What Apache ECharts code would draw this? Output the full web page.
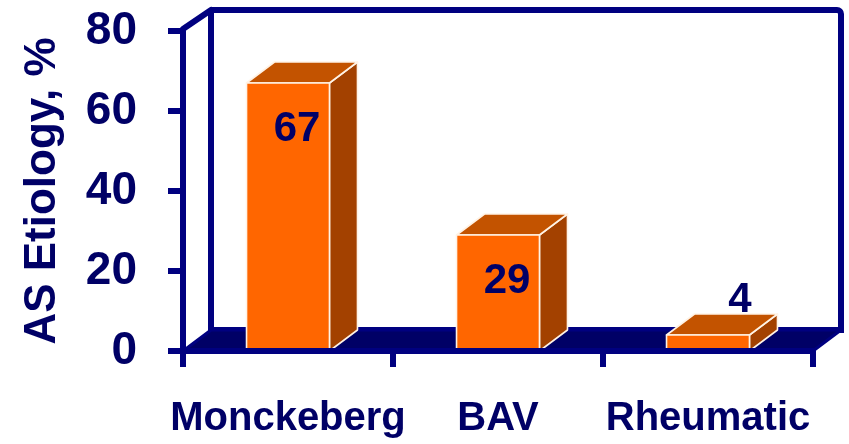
<!DOCTYPE html>
<html>
<head>
<meta charset="utf-8">
<title>AS Etiology</title>
<script src="https://cdn.jsdelivr.net/npm/echarts@6/dist/echarts.min.js"></script>
<style>
  html, body { margin: 0; padding: 0; background: #ffffff; }
  #chart { width: 849px; height: 444px; }
</style>
</head>
<body>
<div id="chart"></div>
<script>
// Aortic stenosis etiology, percent of cases
const categories = ['Monckeberg', 'BAV', 'Rheumatic'];
const etiologyPct = [67, 29, 4];
const yMin = 0;
const yMax = 80;
const yStep = 20;

const NAVY = '#000080';
const FLOOR = '#000066';
const TEXT = '#000066';
const FONT = '"Liberation Sans", Arial, sans-serif';
// depth of the pseudo-3D box (screen pixels)
const DX = 28, DY = -21;

const chart = echarts.init(document.getElementById('chart'));

// Back wall, left wall edge and floor of the 3D frame
function renderFrame(params, api) {
  const cs = params.coordSys;
  const x0 = cs.x, x1 = cs.x + cs.width;
  const yT = cs.y, y0 = cs.y + cs.height;
  return {
    type: 'group',
    children: [
      {
        type: 'rect',
        shape: { x: x0 + DX, y: yT + DY, width: x1 - x0, height: y0 - yT, r: [0, 4, 0, 0] },
        style: { fill: '#ffffff', stroke: NAVY, lineWidth: 6 }
      },
      {
        type: 'line',
        shape: { x1: x0, y1: yT - 2, x2: x0 + DX, y2: yT + DY },
        style: { stroke: NAVY, lineWidth: 6, lineCap: 'round' }
      },
      {
        type: 'polygon',
        shape: { points: [[x0, y0], [x1, y0], [x1 + DX, y0 + DY], [x0 + DX, y0 + DY]] },
        style: { fill: FLOOR, stroke: NAVY, lineWidth: 3, lineJoin: 'round' }
      }
    ]
  };
}

// 3D bars: front face, top face, side face and value label
function renderBar(params, api) {
  const idx = api.value(0);
  const val = api.value(1);
  const top = api.coord([idx, val]);
  const base = api.coord([idx, 0]);
  const band = api.size([1, 0])[0];
  const w = band * 0.395;
  const xl = top[0] - w / 2, xr = top[0] + w / 2;
  const yt = top[1], yb = base[1];
  const edge = { stroke: '#fff3e6', lineWidth: 1.6, lineJoin: 'round' };
  const tall = (yb - yt) > 60;
  return {
    type: 'group',
    children: [
      {
        type: 'polygon',
        shape: { points: [[xr, yt], [xr + DX, yt + DY], [xr + DX, yb + DY], [xr, yb]] },
        style: Object.assign({ fill: '#a34100' }, edge)
      },
      {
        type: 'polygon',
        shape: { points: [[xl, yt], [xr, yt], [xr + DX, yt + DY], [xl + DX, yt + DY]] },
        style: Object.assign({ fill: '#c35300' }, edge)
      },
      {
        type: 'rect',
        shape: { x: xl, y: yt, width: w, height: yb - yt },
        style: Object.assign({ fill: '#ff6600' }, edge)
      },
      {
        type: 'text',
        style: {
          text: String(val),
          x: tall ? top[0] + 9 : top[0] + 32,
          y: tall ? yt + 46 : yt - 35,
          fill: TEXT,
          fontSize: 42,
          fontWeight: 'bold',
          fontFamily: FONT,
          align: 'center',
          verticalAlign: 'middle'
        }
      }
    ]
  };
}

chart.setOption({
  animation: false,
  backgroundColor: '#ffffff',
  grid: { left: 183, right: 36, top: 31, bottom: 93, containLabel: false, outerBoundsMode: 'none' },
  xAxis: {
    type: 'category',
    data: categories,
    z: 5,
    axisLine: { lineStyle: { color: NAVY, width: 6 } },
    axisTick: { show: true, length: 16, lineStyle: { color: NAVY, width: 6 } },
    axisLabel: {
      interval: 0,
      hideOverlap: false,
      color: TEXT, fontSize: 40, fontWeight: 'bold', fontFamily: FONT, margin: 48
    }
  },
  yAxis: {
    type: 'value',
    min: yMin,
    max: yMax,
    interval: yStep,
    z: 5,
    name: 'AS Etiology, %',
    nameLocation: 'middle',
    nameRotate: 90,
    nameGap: 118,
    nameTextStyle: { color: TEXT, fontSize: 44, fontWeight: 'bold', fontFamily: FONT },
    axisLine: { show: true, lineStyle: { color: NAVY, width: 6 } },
    axisTick: { show: true, length: 15, lineStyle: { color: NAVY, width: 6 } },
    splitLine: { show: false },
    axisLabel: {
      color: TEXT, fontSize: 46, fontWeight: 'bold', fontFamily: FONT, margin: 46
    }
  },
  series: [
    {
      type: 'custom',
      z: 1,
      silent: true,
      clip: false,
      data: [[0, 0]],
      renderItem: renderFrame
    },
    {
      type: 'custom',
      z: 2,
      clip: false,
      data: etiologyPct.map((v, i) => [i, v]),
      encode: { x: 0, y: 1 },
      renderItem: renderBar
    }
  ]
});
</script>
</body>
</html>
